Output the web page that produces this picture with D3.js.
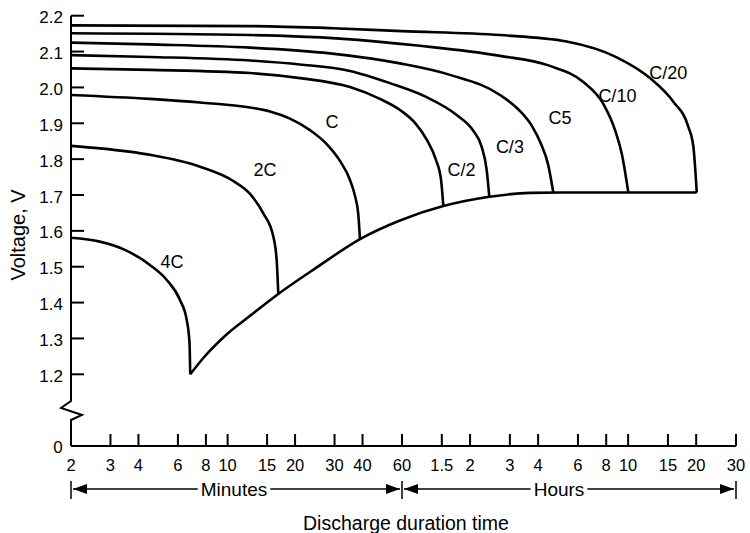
<!DOCTYPE html>
<html>
<head>
<meta charset="utf-8">
<script src="https://cdn.jsdelivr.net/npm/d3@7"></script>
<style>
  html, body { margin: 0; padding: 0; background: #fff; }
  svg { display: block; font-family: "Liberation Sans", Arial, Helvetica, sans-serif; }
</style>
</head>
<body>
<svg id="chart" width="750" height="533"></svg>
<script>
// ---- data (time in minutes, voltage in V) ----
const minuteTicks = [2, 3, 4, 6, 8, 10, 15, 20, 30, 40, 60];
const hourTicks = [1.5, 2, 3, 4, 6, 8, 10, 15, 20, 30];
const voltTicks = [1.2, 1.3, 1.4, 1.5, 1.6, 1.7, 1.8, 1.9, 2.0, 2.1, 2.2];

const s4C  = [[2,1.581],[2.69,1.570],[3.48,1.547],[4.50,1.505],[5.35,1.463],[6.13,1.407],[6.57,1.351],[6.76,1.287],[6.81,1.2]];
const s2C  = [[2,1.837],[2.69,1.830],[4.50,1.812],[7.53,1.779],[10.6,1.739],[12.59,1.703],[14.43,1.649],[15.99,1.584],[16.55,1.519],[16.83,1.424]];
const sC   = [[2,1.979],[4.50,1.968],[7.53,1.958],[12.59,1.944],[15.45,1.933],[18.98,1.913],[23.31,1.881],[27.68,1.842],[31.72,1.795],[35.16,1.742],[37.02,1.697],[38.28,1.647],[38.96,1.577]];
const sC2  = [[2,2.053],[4.50,2.049],[12.59,2.040],[21.03,2.026],[35.16,2.001],[47.84,1.968],[58.77,1.937],[68.5,1.901],[77.4,1.853],[84.8,1.798],[89.3,1.742],[91.4,1.669]];
const sC3  = [[2,2.090],[4.50,2.085],[12.59,2.075],[21.03,2.064],[35.16,2.046],[53.02,2.012],[75.8,1.975],[104.7,1.923],[124.0,1.879],[135.1,1.834],[142.1,1.770],[146.0,1.695]];
const sC5  = [[2,2.125],[4.50,2.120],[12.59,2.111],[28.62,2.095],[58.77,2.067],[97.8,2.035],[162.8,1.979],[199.6,1.934],[225.5,1.892],[247.2,1.842],[265.4,1.786],[280.1,1.707]];
const sC10 = [[2,2.151],[12.59,2.146],[31.72,2.136],[72.06,2.116],[162.8,2.088],[270.9,2.060],[380.3,2.015],[466.1,1.954],[525.2,1.881],[563.8,1.812],[601.2,1.707]];
const sC20 = [[2,2.173],[12.59,2.171],[29.52,2.165],[60,2.157],[162.8,2.146],[321.0,2.128],[534.3,2.084],[750,2.026],[951,1.960],[1108,1.890],[1166,1.835],[1207,1.707]];
const cutoff = [[6.81,1.2],[7.93,1.251],[9.73,1.307],[12.59,1.363],[16.83,1.424],[24.98,1.498],[38.96,1.577],[58.77,1.629],[91.4,1.669],[146.0,1.695],[221.0,1.706],[299.9,1.707],[601.2,1.707],[1207,1.707]];

const seriesNames = ["4C", "2C", "C", "C/2", "C/3", "C5", "C/10", "C/20"];
const seriesData = [s4C, s2C, sC, sC2, sC3, sC5, sC10, sC20];
// label anchor positions (minutes, volts)
const labelPos = [[5.65,1.513],[14.7,1.770],[29.2,1.904],[110,1.770],[180,1.835],[300,1.914],[538,1.976],[904,2.040]];

// ---- scales ----
const x = d3.scaleLog().domain([2, 60, 1800]).range([71, 402, 736]);
const y = d3.scaleLinear().domain([1.2, 2.2]).range([374.3, 15.7]);
const xAxisY = 446;
const axisX = x(2);

const svg = d3.select("#chart");
const ink = "#000";

// ---- y axis with break ----
const yTop = y(2.2);
svg.append("path")
  .attr("d", `M${axisX},${yTop} L${axisX},401 L${axisX-10},408 L${axisX+11},415 L${axisX},420 L${axisX},${xAxisY}`)
  .attr("fill", "none").attr("stroke", ink).attr("stroke-width", 2);

svg.append("g").selectAll("line").data(voltTicks).join("line")
  .attr("x1", axisX).attr("x2", axisX + 13)
  .attr("y1", d => y(d)).attr("y2", d => y(d))
  .attr("stroke", ink).attr("stroke-width", 2);

svg.append("g").selectAll("text").data(voltTicks).join("text")
  .attr("x", axisX - 8).attr("y", d => y(d) + 2)
  .attr("text-anchor", "end").attr("dominant-baseline", "central")
  .attr("font-size", 17).attr("fill", ink)
  .text(d => d.toFixed(1));

svg.append("text")
  .attr("x", axisX - 13).attr("y", xAxisY + 1)
  .attr("text-anchor", "middle").attr("dominant-baseline", "central")
  .attr("font-size", 17).attr("fill", ink).text("0");

svg.append("text")
  .attr("transform", `translate(18,235) rotate(-90)`)
  .attr("text-anchor", "middle").attr("dominant-baseline", "central")
  .attr("font-size", 20).attr("fill", ink).text("Voltage, V");

// ---- x axis ----
svg.append("line")
  .attr("x1", axisX).attr("x2", x(1800))
  .attr("y1", xAxisY).attr("y2", xAxisY)
  .attr("stroke", ink).attr("stroke-width", 2);

const tickData = minuteTicks.map(m => ({v: m, label: String(m)}))
  .concat(hourTicks.map(h => ({v: h * 60, label: String(h)})));

svg.append("g").selectAll("line").data(tickData.filter(d => d.v > 2)).join("line")
  .attr("x1", d => x(d.v)).attr("x2", d => x(d.v))
  .attr("y1", xAxisY).attr("y2", xAxisY - 12)
  .attr("stroke", ink).attr("stroke-width", 2);

svg.append("g").selectAll("text").data(tickData).join("text")
  .attr("x", d => x(d.v)).attr("y", 471)
  .attr("text-anchor", "middle")
  .attr("font-size", 16.5).attr("fill", ink)
  .text(d => d.label);

// ---- Minutes / Hours arrows ----
const rowY = 489;
function bar(px) {
  svg.append("line").attr("x1", px).attr("x2", px).attr("y1", rowY - 8).attr("y2", rowY + 10)
    .attr("stroke", ink).attr("stroke-width", 1.5);
}
function arrowHead(tipX, dir) {
  const len = 14, half = 5;
  svg.append("path")
    .attr("d", `M${tipX},${rowY} L${tipX - dir*len},${rowY - half} L${tipX - dir*len},${rowY + half} Z`)
    .attr("fill", ink);
}
function span(x0, x1, label, cx) {
  const t = svg.append("text").attr("x", cx).attr("y", rowY)
    .attr("text-anchor", "middle").attr("dominant-baseline", "central")
    .attr("font-size", 19).attr("fill", ink).text(label);
  const w = t.node().getComputedTextLength();
  svg.append("line").attr("x1", x0 + 2).attr("x2", cx - w/2 - 3).attr("y1", rowY).attr("y2", rowY)
    .attr("stroke", ink).attr("stroke-width", 1.5);
  svg.append("line").attr("x1", cx + w/2 + 3).attr("x2", x1 - 2).attr("y1", rowY).attr("y2", rowY)
    .attr("stroke", ink).attr("stroke-width", 1.5);
  arrowHead(x0 + 2, -1);
  arrowHead(x1 - 2, 1);
}
bar(x(2)); bar(x(60)); bar(x(1800));
span(x(2), x(60), "Minutes", 234);
span(x(60), x(1800), "Hours", 559);

svg.append("text")
  .attr("x", 406).attr("y", 530)
  .attr("text-anchor", "middle")
  .attr("font-size", 19.5).attr("fill", ink)
  .text("Discharge duration time");

// ---- curves ----
const line = d3.line()
  .x(d => x(d[0])).y(d => y(d[1]))
  .curve(d3.curveMonotoneX);

svg.append("g").selectAll("path").data(seriesData.concat([cutoff])).join("path")
  .attr("d", line)
  .attr("fill", "none").attr("stroke", ink).attr("stroke-width", 2.6)
  .attr("stroke-linejoin", "round").attr("stroke-linecap", "butt");

svg.append("g").selectAll("text").data(seriesNames).join("text")
  .attr("x", (d, i) => x(labelPos[i][0]))
  .attr("y", (d, i) => y(labelPos[i][1]))
  .attr("text-anchor", "middle").attr("dominant-baseline", "central")
  .attr("font-size", 18).attr("fill", ink)
  .text(d => d);
</script>
</body>
</html>
